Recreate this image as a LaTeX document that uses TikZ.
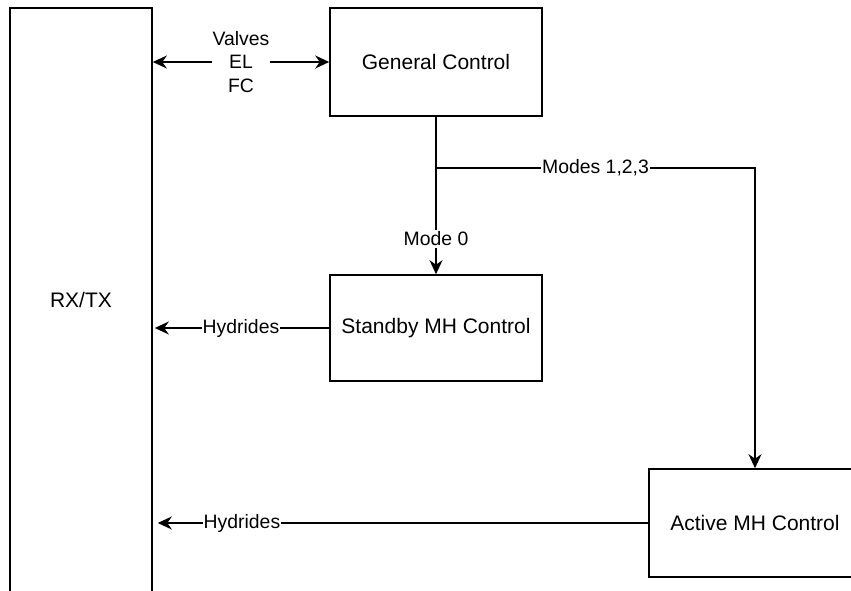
\documentclass[tikz,border=0pt]{standalone}
\usepackage{fontspec}
\setmainfont{Liberation Sans}
\usetikzlibrary{arrows.meta}
\begin{document}
\begin{tikzpicture}[x=1pt, y=-1pt,
  tip/.tip={Stealth[length=14pt, width=13pt, inset=4.5pt]},
  block/.style={draw, line width=1.6pt, minimum width=212pt, minimum height=107pt,
    inner sep=0pt, font=\fontsize{21}{25}\selectfont},
  link/.style={line width=1.6pt, -tip},
  tag/.style={fill=white, inner sep=1pt, font=\fontsize{19.4}{23.3}\selectfont, align=center}]
  \path[use as bounding box, clip] (0,0) rectangle (851,591);
  \fill[white] (0,0) rectangle (851,591);

  % blocks
  \node[block, minimum width=142pt, minimum height=584pt] (rx) at (81,300) {RX/TX};
  \node[block, minimum height=108pt] (gc) at (436,62) {General Control};
  \node[block, minimum height=106pt] (sb) at (436,328) {Standby MH Control};
  \node[block, minimum height=108pt] (ac) at (755,523) {Active MH Control};

  % control signals between RX/TX and the general controller
  \draw[link, tip-tip] (rx.east |- gc.west) -- (gc.west)
    node[tag, midway, inner sep=0.3pt] {Valves\\EL\\FC};

  % mode selection
  \coordinate (split) at (gc.south |- 0,168);
  \draw[link] (gc.south) -- (sb.north)
    node[tag, pos=0.775, inner sep=2pt] {Mode 0};
  \draw[link] (split) -| (ac.north)
    node[tag, pos=0.25] {Modes 1,2,3};

  % hydride data back to RX/TX
  \draw[link, shorten >=2pt] (sb.west) -- (rx.east |- sb.west)
    node[tag, midway] {Hydrides};
  \draw[link, shorten >=5pt] (ac.west) -- (rx.east |- ac.west)
    node[tag, pos=0.82] {Hydrides};
\end{tikzpicture}
\end{document}
